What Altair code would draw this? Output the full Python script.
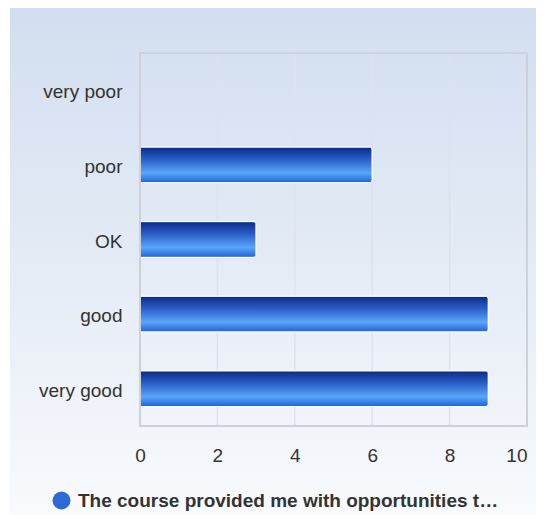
import altair as alt
import pandas as pd

categories = ["very poor", "poor", "OK", "good", "very good"]
values = [0, 6, 3, 9, 9]
series_name = "The course provided me with opportunities t…"
x_ticks = [0, 2, 4, 6, 8, 10]

W, H = 387, 373
PAD = {"left": 132, "top": 45, "right": 9, "bottom": 89}

df = pd.DataFrame({"category": categories, "value": values, "series": [series_name] * len(categories)})
grid_df = pd.DataFrame({"tick": x_ticks})

FONT = "Liberation Sans"

bg = alt.Chart(alt.Data(values=[{}])).mark_rect(
    fill=alt.Gradient(gradient="linear", x1=0, x2=0, y1=0, y2=1,
                      stops=[alt.GradientStop(color="#d2def0", offset=0),
                             alt.GradientStop(color="#e4ebf5", offset=0.5),
                             alt.GradientStop(color="#f8fafd", offset=1)])
).encode(
    x=alt.value(-PAD["left"] + 2), x2=alt.value(W + PAD["right"]),
    y=alt.value(-PAD["top"]), y2=alt.value(H + PAD["bottom"])
)

xscale = alt.Scale(domain=[0, 10], nice=False)

grid = alt.Chart(grid_df).mark_rule(color="#dde3ec", strokeWidth=1.5).encode(
    x=alt.X("tick:Q", scale=xscale)
)

bars = alt.Chart(df).mark_bar(
    fill=alt.Gradient(gradient="linear", x1=0, x2=0, y1=0, y2=1,
                      stops=[alt.GradientStop(color="#0a2a85", offset=0),
                             alt.GradientStop(color="#2a5fc8", offset=0.35),
                             alt.GradientStop(color="#5aa5fb", offset=0.72),
                             alt.GradientStop(color="#2062d2", offset=1)]),
    stroke="white", strokeWidth=1, cornerRadiusEnd=3
).encode(
    x=alt.X("value:Q", scale=xscale,
            axis=alt.Axis(values=x_ticks, title=None, grid=False, ticks=False, domain=False,
                          labelFont=FONT, labelFontSize=19, labelColor="#333333",
                          labelPadding=20, zindex=1,
                          labelAlign=alt.ExprRef(expr="datum.value >= 10 ? 'right' : 'center'"))),
    y=alt.Y("category:N", sort=categories, scale=alt.Scale(paddingInner=0.52, paddingOuter=0.26),
            axis=alt.Axis(title=None, grid=False, ticks=False, domain=False,
                          labelFont=FONT, labelFontSize=19, labelColor="#333333",
                          labelPadding=18, labelOffset=2, zindex=1))
)

legend_layer = alt.Chart(df).mark_circle(opacity=0).encode(
    x=alt.X("value:Q", scale=xscale),
    y=alt.Y("category:N", sort=categories),
    color=alt.Color("series:N", scale=alt.Scale(range=["#2c6bd6"]),
                    legend=alt.Legend(title=None, orient="none", legendX=-88, legendY=438,
                                      symbolType="circle", symbolSize=324, symbolOpacity=1,
                                      symbolStrokeWidth=0,
                                      labelFont=FONT, labelFontSize=19, labelFontWeight="bold",
                                      labelColor="#333333", labelLimit=800, labelOffset=7,
                                      padding=0))
)

frame = alt.Chart(alt.Data(values=[{}])).mark_rect(
    fill=None, stroke="#cdd2da", strokeWidth=2
).encode(x=alt.value(0), x2=alt.value(W), y=alt.value(0), y2=alt.value(H))

chart = alt.layer(bg, grid, bars, legend_layer, frame).properties(
    width=W, height=H,
    autosize=alt.AutoSizeParams(type="none"),
    padding=PAD,
    background="white",
).configure_view(stroke=None)

chart.save("out.html", embed_options={"renderer": "svg", "actions": False})
